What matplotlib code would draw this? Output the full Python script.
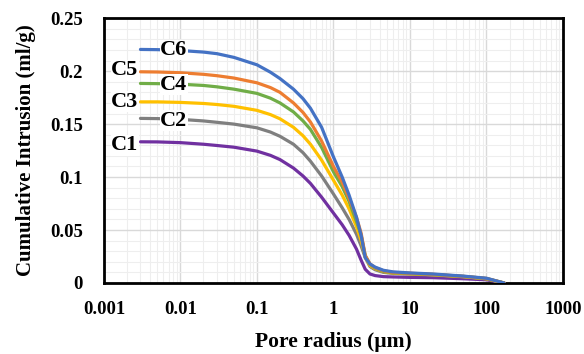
import numpy as np
import matplotlib.pyplot as plt
from matplotlib.ticker import FixedLocator, LogLocator, NullFormatter

plt.rcParams['font.family'] = ['Liberation Serif', 'DejaVu Serif']
plt.rcParams['font.weight'] = 'bold'

radius = [0.003, 0.005, 0.01, 0.02, 0.03, 0.05, 0.1, 0.15, 0.2, 0.3, 0.4, 0.5, 0.7,
          1.0, 1.3, 1.6, 2.0, 2.3, 2.6, 3.0, 3.5, 4.5, 6, 10, 20, 50, 100, 170]

c1 = [0.1333, 0.1332, 0.1325, 0.131, 0.1298, 0.1282, 0.1245, 0.1205, 0.1165, 0.1085, 0.101, 0.094, 0.081,
      0.066, 0.055, 0.045, 0.032, 0.0215, 0.013, 0.0085, 0.007, 0.006, 0.0057, 0.0053, 0.005, 0.004, 0.003, 0.0]
c2 = [0.1554, 0.1552, 0.1545, 0.153, 0.1517, 0.150, 0.1465, 0.1425, 0.1385, 0.131, 0.123, 0.115, 0.101,
      0.084, 0.071, 0.060, 0.046, 0.035, 0.024, 0.0155, 0.0125, 0.010, 0.009, 0.0083, 0.0075, 0.0058, 0.0038, 0.0]
c3 = [0.171, 0.171, 0.1705, 0.1695, 0.1685, 0.1668, 0.163, 0.159, 0.155, 0.147, 0.139, 0.131, 0.116,
      0.097, 0.083, 0.070, 0.053, 0.040, 0.025, 0.0165, 0.0135, 0.0108, 0.0094, 0.0087, 0.0078, 0.006, 0.004, 0.0]
c4 = [0.1884, 0.1882, 0.1877, 0.1865, 0.1852, 0.183, 0.179, 0.1745, 0.170, 0.1615, 0.153, 0.145, 0.128,
      0.105, 0.091, 0.077, 0.058, 0.045, 0.026, 0.0175, 0.014, 0.011, 0.0097, 0.009, 0.008, 0.0062, 0.0042, 0.0]
c5 = [0.1994, 0.1992, 0.1985, 0.197, 0.1957, 0.1935, 0.189, 0.1845, 0.180, 0.170, 0.161, 0.152, 0.134,
      0.110, 0.095, 0.080, 0.062, 0.047, 0.026, 0.018, 0.0145, 0.0115, 0.010, 0.0092, 0.0082, 0.0063, 0.0043, 0.0]
c6 = [0.2205, 0.2203, 0.2195, 0.218, 0.2165, 0.213, 0.206, 0.199, 0.193, 0.183, 0.174, 0.165, 0.147,
      0.119, 0.100, 0.083, 0.062, 0.045, 0.024, 0.018, 0.015, 0.012, 0.0105, 0.0095, 0.0085, 0.0065, 0.0045, 0.0]

names = ['C1', 'C2', 'C3', 'C4', 'C5', 'C6']
colors = ['#7030A0', '#7F7F7F', '#FFC000', '#70AD47', '#ED7D31', '#4472C4']
label_x = [0.00188, 0.0082, 0.00188, 0.0082, 0.00188, 0.0082]
label_y = [0.130, 0.153, 0.171, 0.187, 0.201, 0.220]

yticks = [0, 0.05, 0.1, 0.15, 0.2, 0.25]
ytick_labels = ['0', '0.05', '0.1', '0.15', '0.2', '0.25']
xticks = [0.001, 0.01, 0.1, 1, 10, 100, 1000]
xtick_labels = ['0.001', '0.01', '0.1', '1', '10', '100', '1000']

series = [c1, c2, c3, c4, c5, c6]

fig = plt.figure(figsize=(5.84, 3.54), dpi=100)
ax = fig.add_axes([0.178, 0.2006, 0.786, 0.748])

# yellow ends up on top in the tail
order = [0, 1, 3, 4, 5, 2]
for i in order:
    ax.plot(radius, series[i], color=colors[i], lw=2.3, zorder=3 + i,
            solid_joinstyle='round', solid_capstyle='round')

for i in range(6):
    ax.text(label_x[i], label_y[i], names[i], fontsize=16, fontweight='bold',
            ha='center', va='center', zorder=10,
            bbox=dict(facecolor='white', edgecolor='none', pad=0.3))

ax.set_xscale('log')
ax.set_xlim(0.001, 1000)
ax.set_ylim(0, 0.25)
ax.xaxis.set_major_locator(FixedLocator(xticks))
ax.set_xticklabels(xtick_labels)
ax.xaxis.set_minor_locator(LogLocator(base=10, subs=np.arange(2, 10), numticks=20))
ax.xaxis.set_minor_formatter(NullFormatter())
ax.yaxis.set_major_locator(FixedLocator(yticks))
ax.set_yticklabels(ytick_labels)
ax.yaxis.set_minor_locator(FixedLocator(np.arange(0.01, 0.25, 0.01)))

ax.grid(which='major', color='#d9d9d9', lw=1.0, zorder=0)
ax.grid(which='minor', color='#eeeeee', lw=0.8, zorder=0)
ax.set_axisbelow(True)

ax.tick_params(which='both', length=0, labelsize=13.5)
ax.tick_params(axis='y', pad=15)
ax.tick_params(axis='x', pad=13)
for lab in ax.get_xticklabels() + ax.get_yticklabels():
    lab.set_fontweight('bold')
for s in ax.spines.values():
    s.set_linewidth(2)
    s.set_color('black')

ax.set_xlabel('Pore radius (µm)', fontsize=15.5, fontweight='bold', labelpad=10)
ax.set_ylabel('Cumulative Intrusion (ml/g)', fontsize=15, fontweight='bold', labelpad=10)

fig.savefig('out.png', dpi=100)
